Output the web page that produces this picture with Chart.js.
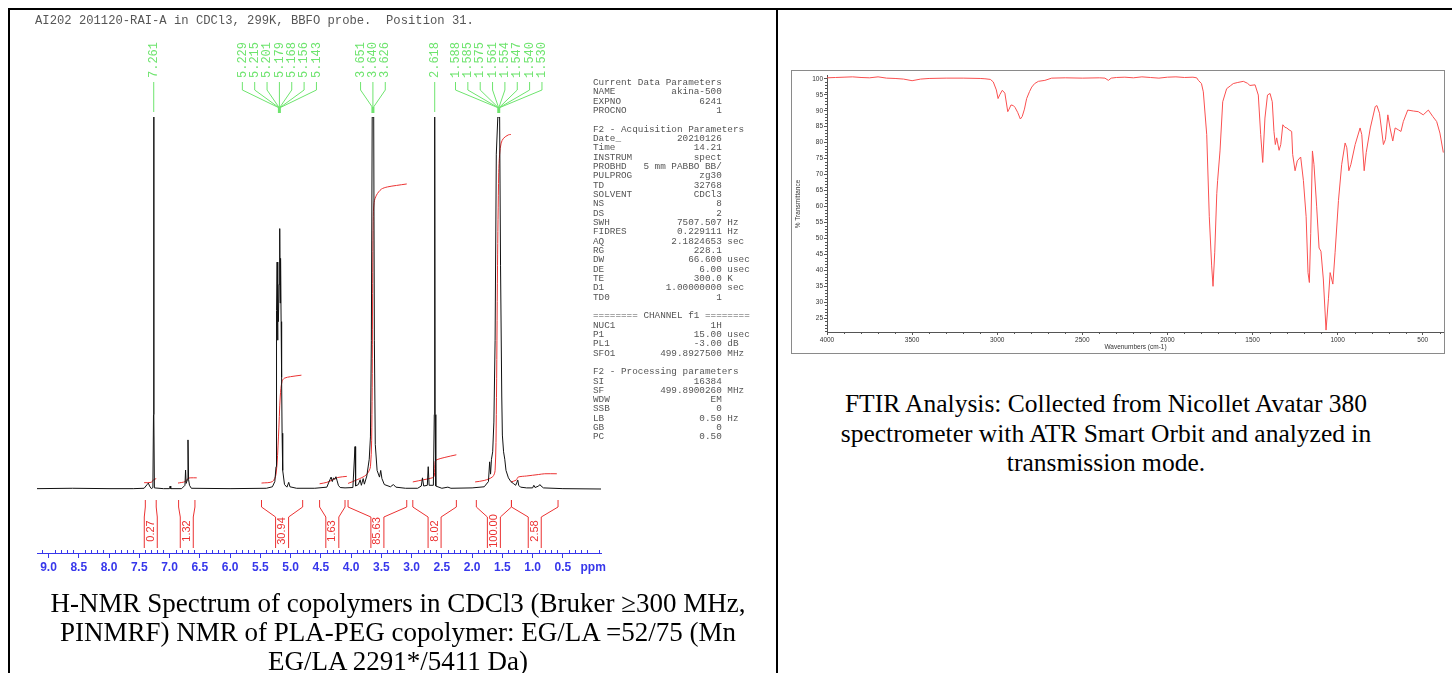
<!DOCTYPE html>
<html><head><meta charset="utf-8">
<script src="https://cdn.jsdelivr.net/npm/chart.js@4.4.1/dist/chart.umd.min.js"></script>
<style>
html,body{margin:0;padding:0;background:#fff;width:1452px;height:673px;overflow:hidden;position:relative;font-family:"Liberation Serif","Times New Roman",serif;}
.ln{position:absolute;background:#000;}
#nmr{position:absolute;left:0;top:0;}
#irbox{position:absolute;left:791px;top:70px;width:652px;height:282px;border:1px solid #8a8a8a;}
#ftir{position:absolute;left:0;top:0;}
#hdr{position:absolute;left:35px;top:14px;font:12.2px "Liberation Mono",monospace;color:#555;white-space:pre;}
#params{position:absolute;left:593px;top:78px;font:9.33px/9.33px "Liberation Mono",monospace;color:#555;white-space:pre;margin:0;}
.cap{position:absolute;text-align:center;color:#000;white-space:nowrap;}
</style></head>
<body>
<div class="ln" style="left:8px;top:8px;width:1444px;height:2px"></div>
<div class="ln" style="left:8px;top:8px;width:2px;height:665px"></div>
<div class="ln" style="left:776px;top:8px;width:2px;height:665px"></div>
<canvas id="nmr" width="610" height="590"></canvas>
<div id="hdr">AI202 201120-RAI-A in CDCl3, 299K, BBFO probe.  Position 31.</div>
<pre id="params"></pre>
<div class="cap" style="left:20px;top:589px;width:756px;font-size:27px;line-height:29px">H-NMR Spectrum of copolymers in CDCl3 (Bruker ≥300 MHz,<br>PINMRF) NMR of PLA-PEG copolymer: EG/LA =52/75 (Mn<br>EG/LA 2291*/5411 Da)</div>
<div id="irbox"><canvas id="ftir" width="652" height="282"></canvas></div>
<div class="cap" style="left:778px;top:389px;width:656px;font-size:25.5px;line-height:29.5px">FTIR Analysis: Collected from Nicollet Avatar 380<br>spectrometer with ATR Smart Orbit and analyzed in<br>transmission mode.</div>
<script>
// ---------------- NMR data ----------------
const nmrPpm = [9.19,8.6,8.0,7.6,7.42,7.37,7.35,7.33,7.30,7.275,7.265,7.261,7.257,7.25,7.10,7.0,6.99,6.98,6.80,6.745,6.735,6.725,6.705,6.695,6.685,6.67,6.64,6.0,5.40,5.30,5.26,5.24,5.235,5.229,5.222,5.215,5.208,5.201,5.19,5.179,5.172,5.165,5.156,5.148,5.14,5.13,5.10,5.06,5.03,5.01,4.90,4.60,4.40,4.35,4.33,4.31,4.29,4.27,4.25,4.23,4.21,4.18,4.10,3.97,3.935,3.925,3.88,3.85,3.83,3.80,3.78,3.74,3.70,3.68,3.665,3.651,3.640,3.626,3.615,3.60,3.57,3.53,3.51,3.49,3.45,3.35,3.30,3.26,3.10,2.90,2.84,2.82,2.80,2.74,2.725,2.71,2.64,2.625,2.618,2.611,2.60,2.50,2.40,2.35,2.0,1.80,1.73,1.71,1.695,1.68,1.66,1.64,1.62,1.60,1.575,1.545,1.53,1.51,1.50,1.48,1.46,1.44,1.40,1.36,1.32,1.28,1.26,1.245,1.23,1.20,1.10,1.00,0.98,0.96,0.90,0.88,0.86,0.82,0.50,-0.13];
const nmrInt = [0.1,0.2,0.1,0.1,0.2,1.2,1.6,0.8,0.1,0.4,20,100,20,0.3,0.1,0.1,0.8,0.1,0.1,1.0,5.1,1.5,2.5,13.2,2.5,1.0,0.2,0.1,0.2,0.6,2.0,6,20,48,61,40,50,45,55,70,50,62,45,30,15,5,1.2,0.5,1.8,0.6,0.2,0.2,0.5,2.5,3.2,2.0,3.0,2.6,3.3,2.2,1.0,0.4,0.3,0.4,11.4,0.8,1.2,2.5,1.0,2.8,1.3,3.5,8,14,40,100,100,100,40,12,5,3.2,5.0,2.8,1.2,0.6,1.2,0.5,0.2,0.2,0.8,3.0,0.8,1.0,6.0,1.0,1.0,20,100,20,0.8,0.2,0.5,0.2,0.3,0.6,2.0,7.3,4,8,10,18,40,90,100,100,60,25,14.5,10,8,5,3,2.0,1.5,1.0,1.8,2.4,1.0,0.5,0.3,0.3,1.0,0.4,0.8,1.2,0.8,0.3,0.1,0.0];
// integral curves (null separates the integrals)
const intCurvePpm = [7.42,7.30,7.27,7.22,null,6.86,6.74,6.70,6.66,6.55,null,5.48,5.30,5.24,5.20,5.17,5.14,5.10,5.00,4.82,null,4.52,4.40,4.30,4.22,4.07,null,4.05,3.90,3.75,3.68,3.655,3.645,3.635,3.62,3.58,3.50,3.40,3.25,3.08,null,2.98,2.80,2.66,2.625,2.61,2.58,2.45,2.26,null,1.95,1.80,1.66,1.62,1.60,1.58,1.56,1.545,1.52,1.48,1.40,1.36,null,1.36,1.27,1.24,1.10,0.90,0.80,0.60];
const intCurveVal = [1.7,1.8,2.4,2.8,null,1.6,2.0,2.8,3.0,3.0,null,1.6,2.0,4,14,25,29,29.8,30.2,30.6,null,1.4,1.8,2.5,3.1,3.4,null,1.5,2.5,3.8,6,20,50,72,77,79,80.6,81.2,81.6,82.0,null,1.9,2.5,3.0,3.5,7.5,7.9,8.5,9.2,null,1.9,2.3,3.3,5,20,60,85,90,93,94.3,95.2,95.3,null,1.9,2.4,3.2,3.5,3.9,4.1,4.1];
// integral regions
const integralStart = [7.40,6.85,5.48,4.52,4.05,2.98,1.93,1.35];
const integralEnd   = [7.22,6.58,4.80,4.10,3.08,2.26,1.35,0.58];
const integralValue = ['0.27','1.32','30.94','1.63','85.63','8.02','100.00','2.58'];
// peak picking labels
const peakGroups = [[7.261],[5.229,5.215,5.201,5.179,5.168,5.156,5.143],[3.651,3.640,3.626],[2.618],[1.588,1.585,1.575,1.561,1.554,1.547,1.540,1.530]];
const nmrTicks = [9.0,8.5,8.0,7.5,7.0,6.5,6.0,5.5,5.0,4.5,4.0,3.5,3.0,2.5,2.0,1.5,1.0,0.5,0.0];

// ---------------- FTIR data ----------------
const irWn = [4000,3950,3900,3850,3800,3750,3700,3650,3600,3550,3500,3450,3400,3300,3200,3100,3072,3040,3023,3005,2995,2985,2970,2955,2938,2930,2919,2905,2895,2880,2864,2853,2840,2827,2810,2797,2780,2758,2720,2680,2600,2500,2400,2367,2347,2330,2300,2250,2200,2150,2100,2050,2000,1950,1900,1850,1828,1818,1800,1789,1769,1754,1740,1732,1722,1710,1705,1691,1675,1652,1630,1613,1590,1554,1530,1515,1485,1466,1452,1440,1427,1412,1397,1384,1374,1366,1358,1344,1334,1322,1310,1299,1285,1270,1264,1250,1237,1217,1201,1185,1174,1166,1158,1148,1139,1123,1109,1098,1084,1068,1054,1044,1028,1015,995,976,956,946,934,922,897,868,858,844,832,808,779,769,754,731,719,705,692,676,662,643,628,614,588,555,526,497,467,441,418,399,379];
const irT = [100.3,100.4,100.5,100.6,100.4,100.3,100.6,100.2,100.1,99.9,99.4,99.9,100.1,100.2,100.2,100.1,100.0,99.8,99.0,96.5,93.8,95.0,96.4,95.5,89.7,90.5,91.8,91.6,91.0,89.5,87.4,88.2,90.5,93.8,96.0,97.4,98.5,99.2,99.5,100.2,100.3,100.2,100.3,100.2,99.5,100.2,100.4,100.5,100.3,100.6,100.4,100.2,100.5,100.6,100.4,100.5,100.3,99.5,98.5,95.9,82.5,56.8,41.4,35.0,45.5,64.0,68.1,77.4,92.8,96.9,97.8,98.5,98.8,99.2,98.6,97.9,98.1,94.9,82.5,73.8,87.7,94.9,95.4,92.8,83.5,79.4,81.5,77.6,79.4,85.6,84.8,84.6,84.0,83.5,76.3,71.2,74.3,75.5,68.1,56.8,39.3,36.2,51.6,77.4,73.2,59.9,47.0,46.0,37.3,21.3,31.1,39.3,35.7,45.5,61.9,73.2,79.9,78.4,71.2,73.2,79.4,84.6,82.5,71.2,76.9,84.6,91.3,91.6,89.2,79.4,81.0,88.7,84.6,80.5,84.6,84.0,83.5,86.6,90.2,89.9,89.7,88.7,90.2,88.2,86.6,83.0,76.9];
const irXTicks = [4000,3500,3000,2500,2000,1500,1000,500];
const irYTicks = [25,30,35,40,45,50,55,60,65,70,75,80,85,90,95,100];

// ---------------- parameter text ----------------
const paramRows = [
 ['Current Data Parameters'],['NAME','akina-500'],['EXPNO','6241'],['PROCNO','1'],[''],
 ['F2 - Acquisition Parameters'],['Date_','20210126'],['Time','14.21'],['INSTRUM','spect'],['PROBHD','5 mm PABBO BB/'],
 ['PULPROG','zg30'],['TD','32768'],['SOLVENT','CDCl3'],['NS','8'],['DS','2'],['SWH','7507.507','Hz'],
 ['FIDRES','0.229111','Hz'],['AQ','2.1824653','sec'],['RG','228.1'],['DW','66.600','usec'],['DE','6.00','usec'],
 ['TE','300.0','K'],['D1','1.00000000','sec'],['TD0','1'],[''],
 ['======== CHANNEL f1 ========'],['NUC1','1H'],['P1','15.00','usec'],['PL1','-3.00','dB'],['SFO1','499.8927500','MHz'],[''],
 ['F2 - Processing parameters'],['SI','16384'],['SF','499.8900260','MHz'],['WDW','EM'],['SSB','0'],['LB','0.50','Hz'],['GB','0'],['PC','0.50']
];
document.getElementById('params').textContent = paramRows.map(r=>{
  if(r.length===1) return r[0];
  const pad = Math.max(1, 23 - r[0].length - r[1].length);
  return r[0] + ' '.repeat(pad) + r[1] + (r[2] ? ' ' + r[2] : '');
}).join('\n');

Chart.defaults.font.family = '"Liberation Sans", Arial, sans-serif';
const GREEN = 'rgb(110,228,110)';
const RED = 'rgb(235,50,50)';
const BLUE = 'rgb(55,55,235)';

const nmrDecor = {
  id:'nmrDecor',
  afterDraw(chart){
    const ctx = chart.ctx, xs = chart.scales.x, a = chart.chartArea;
    ctx.save();
    ctx.strokeStyle = BLUE; ctx.lineWidth = 1;
    ctx.beginPath();
    for(let k=-1;k<=91;k++){
      if(k%5===0) continue;
      const px = Math.round(xs.getPixelForValue(k/10))+0.5;
      ctx.moveTo(px, a.bottom); ctx.lineTo(px, a.bottom-3);
    }
    ctx.stroke();
    ctx.strokeStyle = GREEN; ctx.fillStyle = GREEN;
    ctx.font = '12px "Liberation Mono", monospace';
    peakGroups.forEach(g=>{
      const conv = xs.getPixelForValue(g.reduce((s,v)=>s+v,0)/g.length);
      const n = g.length, sp = 12.35;
      g.forEach((v,i)=>{
        const lx = conv + (i-(n-1)/2)*sp;
        ctx.save(); ctx.translate(lx, a.top-39); ctx.rotate(-Math.PI/2);
        ctx.textAlign='left'; ctx.textBaseline='middle';
        ctx.fillText(v.toFixed(3),0,0); ctx.restore();
        ctx.lineWidth = 1;
        ctx.beginPath();
        if(n===1){ ctx.moveTo(lx,a.top-35); ctx.lineTo(lx,a.top-5); }
        else { ctx.moveTo(lx,a.top-35); ctx.lineTo(lx,a.top-27); ctx.lineTo(conv,a.top-9); }
        ctx.stroke();
      });
      if(n>1){ ctx.lineWidth=3; ctx.beginPath(); ctx.moveTo(conv,a.top-10); ctx.lineTo(conv,a.top-4); ctx.stroke(); }
    });
    ctx.strokeStyle = RED; ctx.fillStyle = RED; ctx.lineWidth = 1;
    ctx.font = '11px "Liberation Sans", Arial, sans-serif';
    const b = a.bottom;
    integralStart.forEach((p1,i)=>{
      const x1 = xs.getPixelForValue(p1), x2 = xs.getPixelForValue(integralEnd[i]);
      const c = (x1+x2)/2, h = 6.5;
      ctx.beginPath();
      ctx.moveTo(x1,b-53); ctx.lineTo(x1,b-46); ctx.lineTo(c-h,b-36); ctx.lineTo(c-h,b-5);
      ctx.moveTo(x2,b-53); ctx.lineTo(x2,b-46); ctx.lineTo(c+h,b-36); ctx.lineTo(c+h,b-5);
      ctx.stroke();
      ctx.save(); ctx.translate(c, b-22); ctx.rotate(-Math.PI/2);
      ctx.textAlign='center'; ctx.textBaseline='middle';
      ctx.fillText(integralValue[i],0,0); ctx.restore();
    });
    ctx.restore();
  }
};

new Chart(document.getElementById('nmr'), {
  type:'line',
  data:{datasets:[
    {data:nmrPpm.map((p,i)=>({x:p,y:nmrInt[i]})), borderColor:'#111', borderWidth:1, pointRadius:0, tension:0},
    {data:intCurvePpm.map((p,i)=>({x:p,y:intCurveVal[i]})), borderColor:RED, borderWidth:1, pointRadius:0, tension:0.3, spanGaps:false}
  ]},
  options:{
    responsive:false, animation:false, events:[],
    layout:{padding:{left:37,right:9,top:117,bottom:7}},
    plugins:{legend:{display:false}, tooltip:{enabled:false}},
    scales:{
      x:{type:'linear', reverse:true, min:-0.13, max:9.19,
        afterBuildTicks:s=>{s.ticks = nmrTicks.map(v=>({value:v}));},
        afterFit:s=>{s.height=30;},
        grid:{drawOnChartArea:false, tickLength:5, color:BLUE, tickColor:c=>c.tick && c.tick.value===0 ? 'rgba(0,0,0,0)' : BLUE},
        border:{color:BLUE, width:1},
        ticks:{color:BLUE, font:{size:12, weight:'bold'}, padding:2, maxRotation:0, autoSkip:false,
          callback:v=> v===0 ? 'ppm' : v.toFixed(1)}},
      y:{display:false, min:-17.2, max:100}
    }
  },
  plugins:[nmrDecor]
});

const irDecor = {
  id:'irDecor',
  afterDraw(chart){
    const ctx=chart.ctx, xs=chart.scales.x, ys=chart.scales.y, a=chart.chartArea;
    ctx.save(); ctx.strokeStyle='#555'; ctx.lineWidth=1; ctx.beginPath();
    for(let w=3900; w>=400; w-=100){
      if(w%500===0) continue;
      const px=Math.round(xs.getPixelForValue(w))+0.5;
      ctx.moveTo(px,a.bottom); ctx.lineTo(px,a.bottom+2);
    }
    for(let t=21; t<=100; t++){
      if(t%5===0) continue;
      const py=Math.round(ys.getPixelForValue(t))+0.5;
      ctx.moveTo(a.left,py); ctx.lineTo(a.left-2,py);
    }
    ctx.stroke(); ctx.restore();
  }
};

new Chart(document.getElementById('ftir'), {
  type:'line',
  data:{datasets:[{data:irWn.map((w,i)=>({x:w,y:irT[i]})), borderColor:'rgb(250,80,80)', borderWidth:1, pointRadius:0, tension:0}]},
  options:{
    responsive:false, animation:false, events:[],
    layout:{padding:{top:1,right:0,left:0,bottom:0}},
    plugins:{legend:{display:false}, tooltip:{enabled:false}},
    scales:{
      x:{type:'linear', reverse:true, min:375, max:4000,
        afterBuildTicks:s=>{s.ticks = irXTicks.map(v=>({value:v}));},
        afterFit:s=>{s.height=21;},
        grid:{drawOnChartArea:false, tickLength:3, color:'#555'},
        border:{color:'#555'},
        ticks:{color:'#333', font:{size:6.5}, padding:1, maxRotation:0, autoSkip:false, callback:v=>String(v)},
        title:{display:true, text:'Wavenumbers (cm-1)', color:'#333', font:{size:6.5}, padding:{top:0,bottom:2}}},
      y:{min:20.7, max:100.9,
        afterBuildTicks:s=>{s.ticks = irYTicks.map(v=>({value:v}));},
        afterFit:s=>{s.width=35;},
        grid:{drawOnChartArea:false, tickLength:3, color:'#555'},
        border:{color:'#555'},
        ticks:{color:'#333', font:{size:6.5}, padding:1, autoSkip:false, callback:v=>String(v)},
        title:{display:true, text:'% Transmittance', color:'#333', font:{size:6.5}, padding:{top:2,bottom:0}}}
    }
  },
  plugins:[irDecor]
});
</script>
</body></html>
